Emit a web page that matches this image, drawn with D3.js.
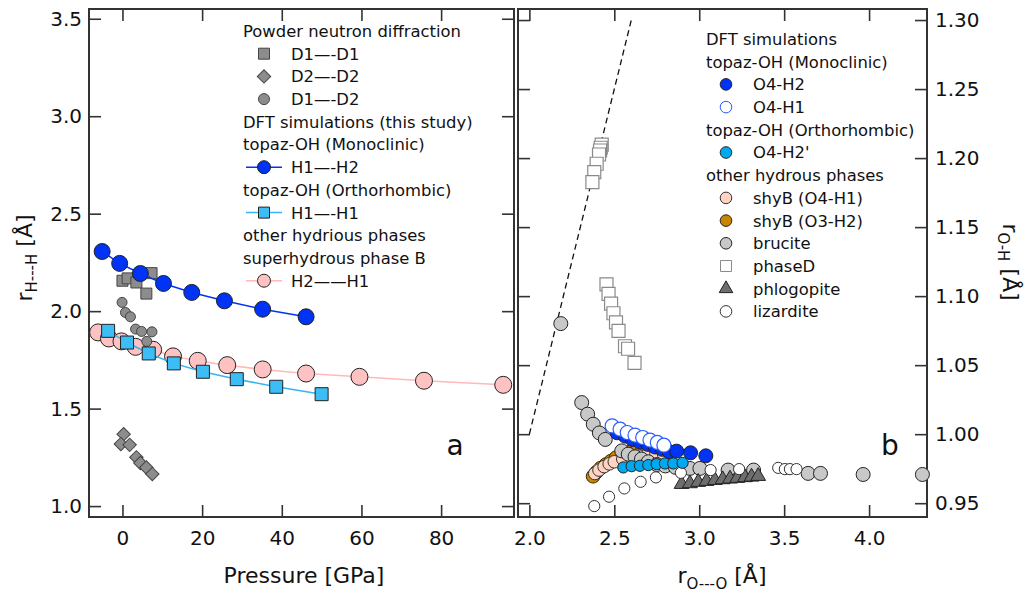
<!DOCTYPE html>
<html><head><meta charset="utf-8">
<script src="https://cdn.jsdelivr.net/npm/d3@7"></script>
<style>
body{margin:0;background:#fff;}
svg text{font-family:"DejaVu Sans",sans-serif;fill:#111;}
</style></head>
<body><svg id="c" width="1030" height="593"></svg>
<script>
// ---------- Panel a data ----------
const ticksPress = [0,20,40,60,80];
const ticksRHH = [1.0,1.5,2.0,2.5,3.0,3.5];
const pressH1H2 = [-5.1,-0.7,4.5,10.3,17.4,25.6,35.2,46.1];
const rH1H2 = [2.306,2.245,2.193,2.142,2.096,2.053,2.010,1.971];
const pressH1H1 = [-3.6,1.15,6.6,12.9,20.2,28.7,38.6,50.0];
const rH1H1 = [1.899,1.839,1.783,1.732,1.689,1.651,1.612,1.574];
const pressShyB = [-6.1,-3.4,-0.25,3.3,7.7,12.7,18.9,26.3,35.2,46.1,59.5,75.7,95.6];
const rShyB = [1.891,1.860,1.845,1.817,1.802,1.768,1.745,1.723,1.701,1.680,1.663,1.643,1.622];
const pressD1D1 = [0,1.3,3.5,7.3,6.0];
const rD1D1 = [2.156,2.168,2.147,2.195,2.090];
const pressD1D2 = [-0.1,0.75,2.0,3.3,4.8,7.4,6.1];
const rD1D2 = [2.045,1.993,1.971,1.908,1.896,1.894,1.845];
const pressD2D2 = [0.3,-0.4,1.8,3.5,4.5,6.0,7.5];
const rD2D2 = [1.369,1.318,1.314,1.250,1.221,1.198,1.164];

// ---------- Panel b data ----------
const ticksROO = [2.0,2.5,3.0,3.5,4.0];
const ticksROH = [0.95,1.00,1.05,1.10,1.15,1.20,1.25,1.30];
const ticksROHLabels = ["0.95","1.00","1.05","1.10","1.15","1.20","1.25","1.30"];
const dashOO = [2.0,2.6];
const dashOH = [1.0,1.3];
const phaseD_oo = [2.426,2.420,2.416,2.410,2.396,2.382,2.371,2.454,2.466,2.481,2.495,2.510,2.525,2.563,2.581,2.619];
const phaseD_oh = [1.2098,1.2075,1.2055,1.2026,1.1959,1.1898,1.1826,1.1085,1.1017,1.0946,1.0876,1.0810,1.0749,1.0637,1.0619,1.0516];
const shy2_oo = [2.375,2.395,2.42,2.45,2.48,2.51,2.55,2.59,2.63,2.66];
const shy2_oh = [0.9695,0.9725,0.9755,0.978,0.9805,0.983,0.9855,0.987,0.9875,0.987];
const shy1_oo = [2.385,2.41,2.44,2.47,2.50,2.55,2.60,2.65,2.70,2.745,2.79];
const shy1_oh = [0.9715,0.974,0.9765,0.9785,0.980,0.982,0.983,0.984,0.986,0.9862,0.9855];
const bru_oo = [2.185,2.308,2.343,2.376,2.412,2.447,2.544,2.582,2.622,2.66,2.70,2.75,2.80,2.86,2.945,3.004,3.17,3.32,3.641,3.714,3.965,4.314];
const bru_oh = [1.0801,1.0229,1.0145,1.0072,1.0009,0.9962,0.9879,0.9855,0.9836,0.982,0.980,0.978,0.977,0.976,0.9752,0.9752,0.974,0.974,0.9716,0.9716,0.9708,0.9708];
const phl_oo = [2.896,2.945,2.994,3.043,3.092,3.138,3.181,3.224,3.269,3.308,3.347];
const phl_oh = [0.9638,0.9643,0.9653,0.966,0.9667,0.9672,0.9677,0.9682,0.9687,0.9691,0.9696];
const liz_oo = [2.382,2.469,2.559,2.655,2.745,2.892,3.067,3.235,3.465,3.504,3.534,3.573];
const liz_oh = [0.9479,0.9547,0.9607,0.9655,0.9687,0.9720,0.9740,0.9747,0.9756,0.9747,0.9747,0.9747];
const oh2_oo = [2.517,2.564,2.606,2.652,2.697,2.740,2.783,2.822,2.867,2.949,3.039];
const oh2_oh = [1.001,0.9986,0.9962,0.9943,0.9926,0.9907,0.9890,0.9875,0.9877,0.9865,0.9843];
const oh1_oo = [2.487,2.534,2.576,2.622,2.667,2.710,2.753,2.792];
const oh1_oh = [1.006,1.0036,1.0012,0.9993,0.9976,0.9957,0.9940,0.9920];
const oh2p_oo = [2.553,2.602,2.651,2.700,2.749,2.798,2.847,2.902];
const oh2p_oh = [0.9759,0.9768,0.9771,0.9776,0.9783,0.9788,0.9788,0.9792];

const legendA = ["Powder neutron diffraction","D1\u2014-D1","D2\u2014-D2","D1\u2014-D2","DFT simulations (this study)","topaz-OH (Monoclinic)","H1\u2014-H2","topaz-OH (Orthorhombic)","H1\u2014-H1","other hydrious phases","superhydrous phase B","H2\u2014\u2014H1"];
const legendB = ["DFT simulations","topaz-OH (Monoclinic)","O4-H2","O4-H1","topaz-OH (Orthorhombic)","O4-H2'","other hydrous phases","shyB (O4-H1)","shyB (O3-H2)","brucite","phaseD","phlogopite","lizardite"];

// ---------- colours ----------
const C = {blue:"#0033f5", lblue:"#3cbdf5", pink:"#ffc2c2", pinkLine:"#ffb9b9", lblueLine:"#36b4f0",
  gray:"#8c8c8c", o4h2p:"#00a9ef", peach:"#ffd4c2", orange:"#c98400", bru:"#c8c8c8", phl:"#6e6e6e", frame:"#333"};

const svg = d3.select("#c");
const yTop = 9, yBot = 517;
const xA = d3.scaleLinear([-8.4,98.3],[89,514]);
const yA = d3.scaleLinear([0.944,3.55],[yBot,yTop]);
const xB = d3.scaleLinear([1.933,4.341],[518,927]);
const yB = d3.scaleLinear([0.940,1.308],[yBot,yTop]);

function zip(a,b){return a.map((v,i)=>[v,b[i]]);}

// ---------- axes panel a ----------
const gA = svg.append("g");
gA.append("g").attr("transform",`translate(89,0)`)
  .call(d3.axisLeft(yA).tickValues(ticksRHH).tickSize(-12).tickPadding(7).tickFormat(d3.format(".1f")));
gA.append("g").attr("transform",`translate(514,0)`)
  .call(d3.axisRight(yA).tickValues(ticksRHH).tickSize(-12).tickFormat(""));
gA.append("g").attr("transform",`translate(0,${yBot})`)
  .call(d3.axisBottom(xA).tickValues(ticksPress).tickSize(-12).tickPadding(14));
gA.append("g").attr("transform",`translate(0,${yTop})`)
  .call(d3.axisTop(xA).tickValues(ticksPress).tickSize(-12).tickFormat(""));

// ---------- axes panel b ----------
const gB = svg.append("g");
gB.append("g").attr("transform",`translate(927,0)`)
  .call(d3.axisRight(yB).tickValues(ticksROH).tickSize(-12).tickPadding(8).tickFormat((d,i)=>ticksROHLabels[i]));
gB.append("g").attr("transform",`translate(518,0)`)
  .call(d3.axisLeft(yB).tickValues(ticksROH).tickSize(-12).tickFormat(""));
gB.append("g").attr("transform",`translate(0,${yBot})`)
  .call(d3.axisBottom(xB).tickValues(ticksROO).tickSize(-12).tickPadding(14).tickFormat(d3.format(".1f")));
gB.append("g").attr("transform",`translate(0,${yTop})`)
  .call(d3.axisTop(xB).tickValues(ticksROO).tickSize(-12).tickFormat(""));

svg.selectAll(".domain").remove();
svg.selectAll(".tick line").attr("stroke",C.frame).attr("stroke-width",1.6);
svg.selectAll(".tick text").attr("font-size",20).attr("font-family","DejaVu Sans").attr("fill","#111");

// frames
svg.append("rect").attr("x",89).attr("y",yTop).attr("width",514-89).attr("height",yBot-yTop)
  .attr("fill","none").attr("stroke",C.frame).attr("stroke-width",2);
svg.append("rect").attr("x",518).attr("y",yTop).attr("width",927-518).attr("height",yBot-yTop)
  .attr("fill","none").attr("stroke",C.frame).attr("stroke-width",2);

// ---------- panel a marks ----------
const pA = svg.append("g");
const line = (x,y)=>d3.line().x(d=>x(d[0])).y(d=>y(d[1]));
const sqr = (s)=>d3.symbol(d3.symbolSquare, s*s)();
const diamond = (s)=>d3.symbol(d3.symbolSquare, s*s)();

pA.append("path").attr("d",line(xA,yA)(zip(pressShyB,rShyB))).attr("fill","none").attr("stroke",C.pinkLine).attr("stroke-width",1.5);
pA.selectAll(".shyb").data(zip(pressShyB,rShyB)).join("circle").attr("cx",d=>xA(d[0])).attr("cy",d=>yA(d[1])).attr("r",8.5)
  .attr("fill",C.pink).attr("stroke","#222").attr("stroke-width",1);
pA.selectAll(".d1d1").data(zip(pressD1D1,rD1D1)).join("path").attr("d",sqr(11))
  .attr("transform",d=>`translate(${xA(d[0])},${yA(d[1])})`).attr("fill",C.gray).attr("stroke","#444").attr("stroke-width",1);
pA.selectAll(".d1d2").data(zip(pressD1D2,rD1D2)).join("circle").attr("cx",d=>xA(d[0])).attr("cy",d=>yA(d[1])).attr("r",5)
  .attr("fill",C.gray).attr("stroke","#444").attr("stroke-width",1);
pA.selectAll(".d2d2").data(zip(pressD2D2,rD2D2)).join("path").attr("d",diamond(9.5))
  .attr("transform",d=>`translate(${xA(d[0])},${yA(d[1])}) rotate(45)`).attr("fill",C.gray).attr("stroke","#444").attr("stroke-width",1);
pA.append("path").attr("d",line(xA,yA)(zip(pressH1H1,rH1H1))).attr("fill","none").attr("stroke",C.lblueLine).attr("stroke-width",1.5);
pA.selectAll(".h1h1").data(zip(pressH1H1,rH1H1)).join("path").attr("d",sqr(13))
  .attr("transform",d=>`translate(${xA(d[0])},${yA(d[1])})`).attr("fill",C.lblue).attr("stroke","#222").attr("stroke-width",1);
pA.append("path").attr("d",line(xA,yA)(zip(pressH1H2,rH1H2))).attr("fill","none").attr("stroke",C.blue).attr("stroke-width",1.5);
pA.selectAll(".h1h2").data(zip(pressH1H2,rH1H2)).join("circle").attr("cx",d=>xA(d[0])).attr("cy",d=>yA(d[1])).attr("r",8)
  .attr("fill",C.blue).attr("stroke","#222").attr("stroke-width",1);

// ---------- panel b marks ----------
const pB = svg.append("g");
pB.append("path").attr("d",line(xB,yB)(zip(dashOO,dashOH))).attr("fill","none").attr("stroke","#111")
  .attr("stroke-width",1.3).attr("stroke-dasharray","6,4");
pB.selectAll(".pd").data(zip(phaseD_oo,phaseD_oh)).join("path").attr("d",sqr(13))
  .attr("transform",d=>`translate(${xB(d[0])},${yB(d[1])})`).attr("fill","#fff").attr("stroke","#8a8a8a").attr("stroke-width",1.2);
function circ(xs,ys,r,fill,stroke,sw){
  pB.append("g").selectAll("circle").data(zip(xs,ys)).join("circle").attr("cx",d=>xB(d[0])).attr("cy",d=>yB(d[1]))
    .attr("r",r).attr("fill",fill).attr("stroke",stroke).attr("stroke-width",sw);
}
circ(shy2_oo,shy2_oh,6.8,C.orange,"#3a2800",1);
circ(shy1_oo,shy1_oh,6.3,C.peach,"#333",1);
circ(bru_oo,bru_oh,7,C.bru,"#222",1);
pB.append("g").selectAll("path").data(zip(phl_oo,phl_oh)).join("path").attr("d",d3.symbol(d3.symbolTriangle,95)())
  .attr("transform",d=>`translate(${xB(d[0])},${yB(d[1])})`).attr("fill",C.phl).attr("stroke","#222").attr("stroke-width",1);
circ(liz_oo,liz_oh,5.6,"#fff","#333",1);
circ(oh2_oo,oh2_oh,7,C.blue,"#222",1);
circ(oh1_oo,oh1_oh,7,"#fff","#2a5cff",1.2);
circ(oh2p_oo,oh2p_oh,5.6,C.o4h2p,"#222",1);

// ---------- legend a ----------
const LA = svg.append("g");
const lyA = i=>31+i*22.7;
LA.selectAll("text").data(legendA).join("text")
  .attr("x",(d,i)=>[1,2,3,6,8,11].includes(i)?291:243).attr("y",(d,i)=>lyA(i)).attr("dy","0.36em")
  .attr("font-size",16.4).text(d=>d);
LA.append("path").attr("d",sqr(11)).attr("transform",`translate(264,${lyA(1)})`).attr("fill",C.gray).attr("stroke","#444");
LA.append("path").attr("d",diamond(9.5)).attr("transform",`translate(264,${lyA(2)}) rotate(45)`).attr("fill",C.gray).attr("stroke","#444");
LA.append("circle").attr("cx",264).attr("cy",lyA(3)).attr("r",5.5).attr("fill",C.gray).attr("stroke","#444");
LA.append("line").attr("x1",246).attr("x2",282).attr("y1",lyA(6)).attr("y2",lyA(6)).attr("stroke",C.blue).attr("stroke-width",1.5);
LA.append("circle").attr("cx",264).attr("cy",lyA(6)).attr("r",6.5).attr("fill",C.blue).attr("stroke","#222");
LA.append("line").attr("x1",246).attr("x2",282).attr("y1",lyA(8)).attr("y2",lyA(8)).attr("stroke",C.lblueLine).attr("stroke-width",1.5);
LA.append("path").attr("d",sqr(11)).attr("transform",`translate(264,${lyA(8)})`).attr("fill",C.lblue).attr("stroke","#222");
LA.append("line").attr("x1",246).attr("x2",282).attr("y1",lyA(11)).attr("y2",lyA(11)).attr("stroke",C.pinkLine).attr("stroke-width",1.5);
LA.append("circle").attr("cx",264).attr("cy",lyA(11)).attr("r",6.5).attr("fill",C.pink).attr("stroke","#222");

// ---------- legend b ----------
const LB = svg.append("g");
const lyB = i=>39+i*22.7;
LB.selectAll("text").data(legendB).join("text")
  .attr("x",(d,i)=>[0,1,4,6].includes(i)?706:753).attr("y",(d,i)=>lyB(i)).attr("dy","0.36em")
  .attr("font-size",16.4).text(d=>d);
const lc = (i,fill,stroke)=>LB.append("circle").attr("cx",726).attr("cy",lyB(i)).attr("r",5.8).attr("fill",fill).attr("stroke",stroke).attr("stroke-width",1);
lc(2,C.blue,"#222"); lc(3,"#fff","#2a5cff"); lc(5,C.o4h2p,"#222"); lc(7,C.peach,"#333"); lc(8,C.orange,"#222"); lc(9,C.bru,"#222");
LB.append("path").attr("d",sqr(11)).attr("transform",`translate(726,${lyB(10)})`).attr("fill","#fff").attr("stroke","#8a8a8a");
LB.append("path").attr("d",d3.symbol(d3.symbolTriangle,80)()).attr("transform",`translate(726,${lyB(11)})`).attr("fill",C.phl).attr("stroke","#222");
lc(12,"#fff","#333");

// ---------- titles ----------
const t1 = svg.append("text").attr("transform","translate(32,258) rotate(-90)").attr("text-anchor","middle").attr("font-size",22);
t1.append("tspan").text("r");
t1.append("tspan").attr("font-size",15).attr("dy",5).text("H---H");
t1.append("tspan").attr("dy",-5).text(" [\u00c5]");
const t2 = svg.append("text").attr("transform","translate(1003,262) rotate(90)").attr("text-anchor","middle").attr("font-size",22);
t2.append("tspan").text("r");
t2.append("tspan").attr("font-size",15).attr("dy",5).text("O-H");
t2.append("tspan").attr("dy",-5).text(" [\u00c5]");
svg.append("text").attr("x",304).attr("y",583).attr("text-anchor","middle").attr("font-size",22).text("Pressure [GPa]");
const t3 = svg.append("text").attr("x",722).attr("y",583).attr("text-anchor","middle").attr("font-size",22);
t3.append("tspan").text("r");
t3.append("tspan").attr("font-size",15).attr("dy",6).text("O---O");
t3.append("tspan").attr("dy",-6).text(" [\u00c5]");
svg.append("text").attr("x",455).attr("y",455).attr("text-anchor","middle").attr("font-size",28).text("a");
svg.append("text").attr("x",890).attr("y",455).attr("text-anchor","middle").attr("font-size",28).text("b");
</script></body></html>
